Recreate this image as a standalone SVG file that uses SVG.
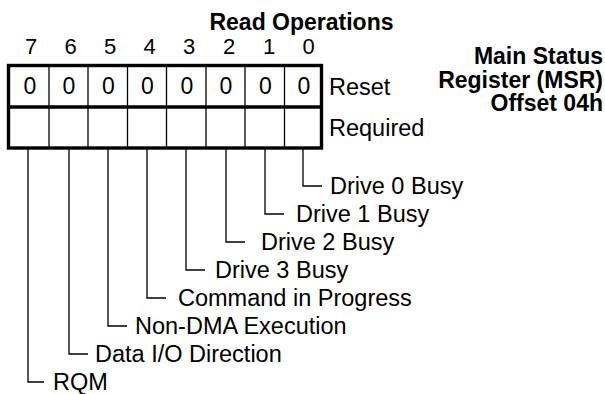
<svg xmlns="http://www.w3.org/2000/svg" width="605" height="394" viewBox="0 0 605 394">
<style>
text{font-family:"Liberation Sans",Arial,sans-serif;fill:#000}
.bitnum{font-size:22px;text-anchor:middle}
.c{font-size:23px;text-anchor:middle}
.l{font-size:23.5px}
.b{font-size:23px;font-weight:bold}
.thick{fill:none;stroke:#000;stroke-width:3.4}
.thin{fill:none;stroke:#000;stroke-width:1.3}
</style>
<rect width="605" height="394" fill="#fff"/>
<g id="title">
<text class="b" x="301.5" y="30" text-anchor="middle">Read Operations</text>
</g>
<g id="register-name">
<text class="b" text-anchor="end"><tspan x="603" y="64">Main Status</tspan><tspan x="603" y="87.5">Register (MSR)</tspan><tspan x="603" y="111">Offset 04h</tspan></text>
</g>
<g id="bit-numbers" font-size="22" text-anchor="middle">
<text class="bitnum" x="31" y="54">7</text>
<text class="bitnum" x="70.5" y="54">6</text>
<text class="bitnum" x="110" y="54">5</text>
<text class="bitnum" x="149.5" y="54">4</text>
<text class="bitnum" x="189" y="54">3</text>
<text class="bitnum" x="229" y="54">2</text>
<text class="bitnum" x="269" y="54">1</text>
<text class="bitnum" x="308.5" y="54">0</text>
</g>
<g id="register">
<line class="thin" x1="49" y1="66" x2="49" y2="148"/>
<line class="thin" x1="88" y1="66" x2="88" y2="148"/>
<line class="thin" x1="127.5" y1="66" x2="127.5" y2="148"/>
<line class="thin" x1="166.5" y1="66" x2="166.5" y2="148"/>
<line class="thin" x1="206" y1="66" x2="206" y2="148"/>
<line class="thin" x1="245" y1="66" x2="245" y2="148"/>
<line class="thin" x1="284.5" y1="66" x2="284.5" y2="148"/>
<line class="thick" x1="8.5" y1="107" x2="321.5" y2="107"/>
<rect class="thick" x="8.5" y="65.5" width="313" height="82.5"/>
<text class="c" x="30" y="93.5">0</text>
<text class="c" x="69" y="93.5">0</text>
<text class="c" x="108.5" y="93.5">0</text>
<text class="c" x="147.5" y="93.5">0</text>
<text class="c" x="187" y="93.5">0</text>
<text class="c" x="226" y="93.5">0</text>
<text class="c" x="265.5" y="93.5">0</text>
<text class="c" x="304" y="93.5">0</text>
</g>
<g id="row-labels">
<text class="l" x="329" y="95">Reset</text>
<text class="l" x="329" y="136">Required</text>
</g>
<g id="connectors">
<polyline class="thin" points="303,149 303,186 322,186"/>
<polyline class="thin" points="265,149 265,214 284,214"/>
<polyline class="thin" points="226,149 226,242 245,242"/>
<polyline class="thin" points="186,149 186,270 205,270"/>
<polyline class="thin" points="147,149 147,298 166,298"/>
<polyline class="thin" points="108,149 108,326 127,326"/>
<polyline class="thin" points="69,149 69,354 88,354"/>
<polyline class="thin" points="28,149 28,382 44,382"/>
</g>
<g id="bit-labels">
<text class="l" x="330" y="194">Drive 0 Busy</text>
<text class="l" x="296" y="222">Drive 1 Busy</text>
<text class="l" x="261" y="250">Drive 2 Busy</text>
<text class="l" x="215" y="278">Drive 3 Busy</text>
<text class="l" x="178" y="306">Command in Progress</text>
<text class="l" x="135" y="334">Non-DMA Execution</text>
<text class="l" x="95" y="362">Data I/O Direction</text>
<text class="l" x="53" y="390">RQM</text>
</g>
</svg>
